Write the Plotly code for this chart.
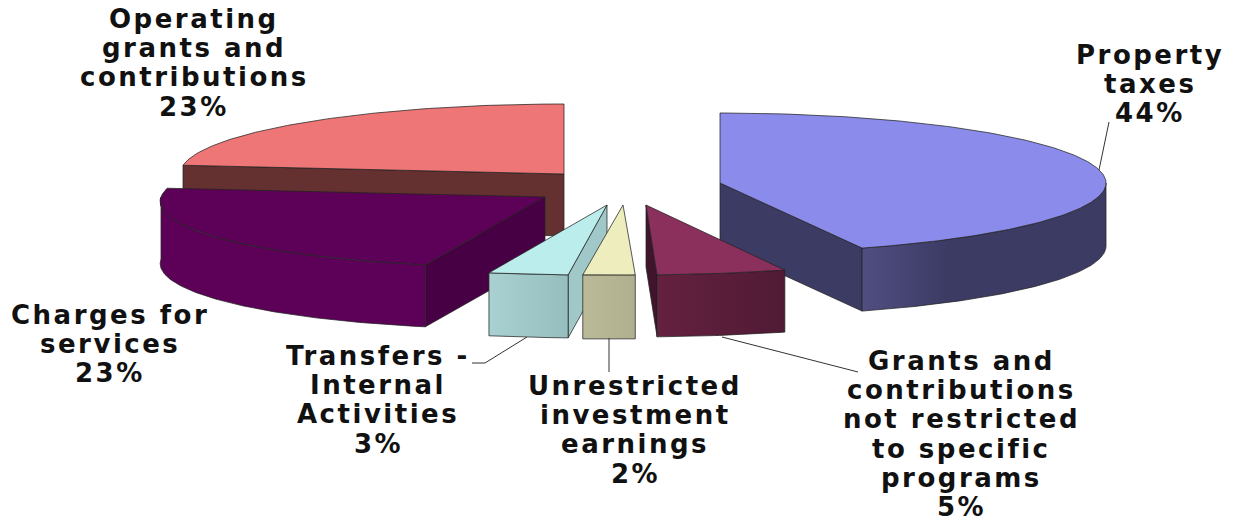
import math
import plotly.graph_objects as go

# Revenue shares, clockwise from twelve o'clock
categories = [
    "Property taxes",
    "Grants and contributions not restricted to specific programs",
    "Unrestricted investment earnings",
    "Transfers - Internal Activities",
    "Charges for services",
    "Operating grants and contributions",
]
shares = [44, 5, 2, 3, 23, 23]
label_lines = [
    ["Property", "taxes"],
    ["Grants and", "contributions", "not restricted", "to specific", "programs"],
    ["Unrestricted", "investment", "earnings"],
    ["Transfers -", "Internal", "Activities"],
    ["Charges for", "services"],
    ["Operating", "grants and", "contributions"],
]

# Exploded-wedge placement in pixel space
apex_x = [720, 646, 623, 607, 545, 564]
apex_y = [183, 205, 205, 205, 197, 174]
radius_x = [386, 415, 418, 428, 384, 384]
lean = [0, 15, 14, 12, 25, 0]
radius_y = 70
depth = [63, 62, 64, 63, 62, 62]

top_colors = ["#8B8BEB", "#8B2F5C", "#EDEDBE", "#BCEDED", "#5D0057", "#EE7676"]
wall_colors = ["#3C3B64", "#40142B", "#B6B695", "#A0C8C8", "#480045", "#643030"]
rim_scales = [
    [[0, "#504E82"], [0.35, "#3C3B64"], [1, "#3C3B64"]],
    [[0, "#64213F"], [1, "#501A35"]],
    [[0, "#BABA98"], [1, "#B0B090"]],
    [[0, "#A9D1D1"], [1, "#96BEBE"]],
    [[0, "#5D0057"], [1, "#5D0057"]],
    [[0, "#643030"], [1, "#643030"]],
]
outline = "rgba(35,35,35,0.75)"

# Label anchors: centre x and first-line centre y, with a fixed line pitch
label_x = [1150, 961, 635, 378, 110, 194]
label_y = [55, 361, 386, 356, 315, 19]
line_pitch = 29.2

# Leader lines from a wedge to its label
leaders = [
    ([1099, 1109], [170, 122]),
    ([722, 858], [337, 372]),
    ([609, 609], [338, 372]),
    ([527, 485, 472], [337, 363, 363]),
]

draw_order = [5, 4, 0, 3, 2, 1]


def rim_point(i, degrees, drop=0):
    t = math.radians(degrees)
    c = math.cos(t)
    x = apex_x[i] + radius_x[i] * math.sin(t) + lean[i] * c
    y = apex_y[i] - radius_y * c + drop
    return x, y


def arc(i, a0, a1, drop=0):
    n = max(2, int(abs(a1 - a0) * 1.5))
    pts = [rim_point(i, a0 + (a1 - a0) * k / n, drop) for k in range(n + 1)]
    return [p[0] for p in pts], [p[1] for p in pts]


def poly(xs, ys, color=None, gradient=None):
    props = dict(
        x=xs + xs[:1], y=ys + ys[:1], mode="lines", fill="toself",
        line=dict(color=outline, width=1), hoverinfo="skip", showlegend=False,
    )
    if gradient:
        props["fillgradient"] = dict(type="horizontal", colorscale=gradient)
    else:
        props["fillcolor"] = color
    return go.Scatter(**props)


fig = go.Figure()

spans = []
total = sum(shares)
running = 0
for v in shares:
    spans.append((running / total * 360, (running + v) / total * 360))
    running += v

for i in draw_order:
    a0, a1 = spans[i]
    ax, ay, d = apex_x[i], apex_y[i], depth[i]

    # Cut faces whose outward normal points toward the viewer
    for ang, normal in ((a0, a0 - 90), (a1, a1 + 90)):
        if math.cos(math.radians(normal)) < -1e-6:
            ex, ey = rim_point(i, ang)
            fig.add_trace(poly([ax, ex, ex, ax], [ay, ey, ey + d, ay + d], wall_colors[i]))

    # Outer curved face, only the part turned toward the viewer
    r0, r1 = max(a0, 90), min(a1, 270)
    if r1 > r0:
        tx, ty = arc(i, r0, r1)
        bx, by = arc(i, r1, r0, d)
        fig.add_trace(poly(tx + bx, ty + by, gradient=rim_scales[i]))

    # Top face
    sx, sy = arc(i, a0, a1)
    fig.add_trace(poly([ax] + sx, [ay] + sy, top_colors[i]))

for lx, ly in leaders:
    fig.add_trace(go.Scatter(
        x=lx, y=ly, mode="lines", line=dict(color="#333333", width=1),
        hoverinfo="skip", showlegend=False,
    ))

# Labels are placed line by line to hold the tight line pitch
for i, lines in enumerate(label_lines):
    for k, text in enumerate(lines + [f"{shares[i]}%"]):
        fig.add_annotation(
            x=label_x[i], y=label_y[i] + k * line_pitch,
            text=f'<span style="letter-spacing:2.5px">{text}</span>',
            showarrow=False, xanchor="center", yanchor="middle",
            font=dict(family="DejaVu Sans", size=26, color="#111111", weight="bold"),
        )

fig.update_layout(
    width=1233, height=522, margin=dict(l=0, r=0, t=0, b=0),
    paper_bgcolor="white", plot_bgcolor="white",
    xaxis=dict(range=[0, 1233], visible=False, fixedrange=True),
    yaxis=dict(range=[522, 0], visible=False, fixedrange=True),
)

fig.write_html("out.html", config=dict(displayModeBar=False))
